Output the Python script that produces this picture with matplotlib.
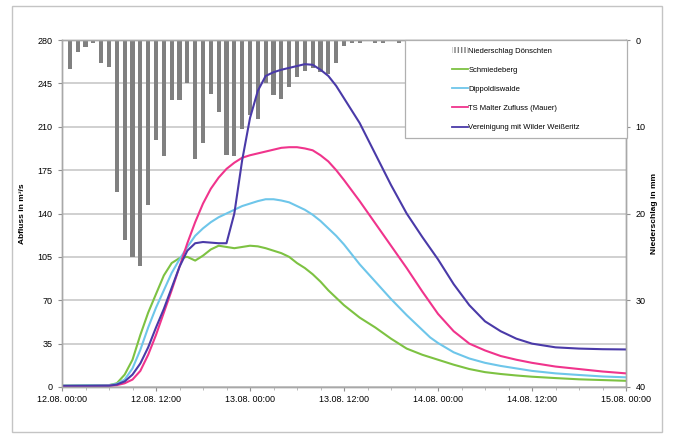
import numpy as np
import matplotlib
matplotlib.use("Agg")
import matplotlib.pyplot as plt
import matplotlib.patches as mpatches
from matplotlib.lines import Line2D

plt.rcParams['font.family'] = ['Liberation Sans', 'DejaVu Sans']

# ---------------- data ----------------
x_tick_labels = ["12.08. 00:00", "12.08. 12:00", "13.08. 00:00", "13.08. 12:00",
                 "14.08. 00:00", "14.08. 12:00", "15.08. 00:00"]

rain_hours = list(range(0, 44))
rain_mm = [0, 3.3, 1.4, 0.8, 0.4, 2.7, 3.1, 17.5, 23.1, 25.0, 26.1, 19.0, 11.5, 13.4,
           6.9, 6.9, 5.0, 13.7, 11.9, 6.2, 8.3, 13.3, 13.4, 10.3, 8.7, 9.1, 4.9, 6.3,
           6.8, 5.4, 4.3, 3.6, 3.2, 3.7, 3.9, 2.7, 0.7, 0.4, 0.3, 0, 0.3, 0.3, 0, 0.4]

t_green = [0, 6, 7, 8, 9, 10, 11, 12, 13, 14, 15, 16, 17, 18, 19, 20, 21, 22, 23, 24, 25,
           26, 27, 28, 29, 30, 31, 32, 33, 34, 35, 36, 38, 40, 42, 44, 46, 48, 50, 52, 54,
           56, 58, 60, 63, 66, 69, 72]
q_schmiedeberg = [1, 1.5, 3, 10, 22, 42, 60, 75, 90, 100, 104, 105, 102, 106, 111, 114,
                  113, 112, 113, 114, 113.5, 112, 110, 108, 105, 100, 96, 91, 85, 78, 72,
                  66, 56, 48, 39, 31, 26, 22, 18, 14.5, 12, 10.5, 9.3, 8.3, 7.2, 6.2, 5.6, 5]

t_cyan = [0, 6, 7, 8, 9, 10, 11, 12, 13, 14, 15, 16, 17, 18, 19, 20, 21, 22, 23, 24, 25,
          26, 27, 28, 29, 30, 31, 32, 33, 34, 35, 36, 38, 40, 42, 44, 46, 47, 48, 50, 52,
          54, 56, 58, 60, 63, 66, 69, 72]
q_dippoldiswalde = [1, 1.5, 2.5, 6, 15, 30, 48, 64, 78, 92, 103, 113, 122, 128, 133, 137,
                    140, 143, 146, 148, 150, 151.5, 151.5, 150.5, 149, 146, 143, 139, 134,
                    128, 122, 115, 99, 85, 71, 58, 46, 40, 35.5, 28, 23, 19.5, 17, 15, 13,
                    11, 9.7, 8.5, 7.8]

t_pink = [0, 6, 7, 8, 9, 10, 11, 12, 13, 14, 15, 16, 17, 18, 19, 20, 21, 22, 23, 24, 25,
          26, 27, 28, 29, 30, 31, 32, 33, 34, 35, 36, 38, 40, 42, 44, 46, 48, 50, 52, 54,
          56, 58, 60, 63, 66, 69, 72]
q_malter = [0.5, 1, 1.5, 3, 6, 13, 26, 42, 60, 78, 97, 116, 133, 148, 160, 169, 176, 181,
            185, 187, 188.5, 190, 191.5, 193, 193.5, 193.5, 192.5, 191, 187, 182, 175, 167,
            150, 132, 114, 96, 77, 59, 45, 35, 29.5, 25, 22, 19.5, 16.5, 14.5, 12.5, 11]

t_blue = [0, 6, 7, 8, 9, 10, 11, 12, 13, 14, 15, 16, 17, 18, 19, 20, 21, 22, 23, 24, 25,
          26, 27, 28, 29, 30, 31, 32, 33, 34, 35, 36, 38, 40, 42, 44, 46, 48, 50, 52, 54,
          56, 58, 60, 63, 66, 69, 72]
q_vereinigung = [1, 1, 2, 4.5, 10, 19, 32, 48, 63, 80, 97, 110, 116, 117, 116.5, 116, 116,
                 140, 183, 217, 239, 251, 254, 256, 257.5, 259, 260.5, 260, 256, 251, 243,
                 233, 213, 188, 163, 140, 121, 103, 83, 66, 53, 45, 39, 35, 32, 31, 30.5, 30.3]

labels = ["Niederschlag Dönschten", "Schmiedeberg", "Dippoldiswalde",
          "TS Malter Zufluss (Mauer)", "Vereinigung mit Wilder Weißeritz"]
colors = ["#808080", "#7dc242", "#6ec6ea", "#f0348c", "#4a3aa8"]

# ---------------- figure ----------------
W, H = 673, 438
fig = plt.figure(figsize=(W / 100, H / 100), dpi=100)
fig.patch.set_facecolor("white")
fig.patches.append(mpatches.Rectangle((12 / W, 6 / H), 650 / W, 426 / H,
                                      transform=fig.transFigure, fill=False,
                                      edgecolor="#c4c4c4", lw=1.0))

left, right, top, bottom = 62, 626, 40, 387
ax2 = fig.add_axes([left / W, (H - bottom) / H, (right - left) / W, (bottom - top) / H])
ax = ax2.twinx()
ax.yaxis.set_label_position("left")
ax.yaxis.tick_left()
ax2.yaxis.set_label_position("right")
ax2.yaxis.tick_right()
ax.set_zorder(ax2.get_zorder() + 1)
ax.patch.set_visible(False)

# precipitation bars (inverted secondary axis)
ax2.bar(rain_hours, rain_mm, width=0.52, color=colors[0], zorder=2)
ax2.set_ylim(40, 0)
ax2.set_yticks(np.arange(0, 41, 10))
ax2.set_yticks(np.arange(0, 41, 5), minor=True)
ax2.grid(True, which="both", axis="y", color="#c4c4c4", lw=1.1, zorder=0)
ax2.set_axisbelow(True)
ax2.tick_params(axis="y", which="minor", length=0)
ax2.tick_params(axis="y", which="major", length=3, color="#909090", labelsize=6.5, pad=4)
ax2.set_ylabel("Niederschlag in mm", fontsize=6, fontweight="bold", labelpad=4)

# discharge lines
series = [(t_green, q_schmiedeberg), (t_cyan, q_dippoldiswalde),
          (t_pink, q_malter), (t_blue, q_vereinigung)]
for (tt, qq), c in zip(series, colors[1:]):
    ax.plot(tt, qq, color=c, lw=1.5, solid_joinstyle="round")

ax.set_ylim(0, 280)
ax.set_yticks(np.arange(0, 281, 35))
ax.tick_params(axis="y", length=3, color="#909090", labelsize=6.5, pad=4)
ax.set_ylabel("Abfluss in m³/s", fontsize=6, fontweight="bold", labelpad=8)

ax2.set_xlim(0, 72)
ax2.set_xticks(np.arange(0, 73, 12))
ax2.set_xticklabels(x_tick_labels)
ax2.set_xticks(np.arange(0, 73, 3), minor=True)
ax2.tick_params(axis="x", which="major", length=3, color="#909090", labelsize=6.5, pad=3)
ax2.tick_params(axis="x", which="minor", length=2, color="#b0b0b0")

for a in (ax, ax2):
    for s in a.spines.values():
        s.set_color("#a8a8a8")
        s.set_linewidth(1.0)

# legend with separate frame
ax.add_patch(mpatches.Rectangle((0.608, 0.7176), 0.394, 0.2824, transform=ax.transAxes,
                                facecolor="white", edgecolor="#b0b0b0", lw=0.9,
                                clip_on=False, zorder=5))
handles = [mpatches.Patch(facecolor="white", edgecolor="#808080", hatch="|||||", lw=0)]
handles += [Line2D([0], [0], color=c, lw=1.3) for c in colors[1:]]
leg = ax.legend(handles, labels, loc="center", bbox_to_anchor=(0.805, 0.858),
                bbox_transform=ax.transAxes, frameon=False, fontsize=5.5,
                handlelength=2.0, handletextpad=0.1, labelspacing=1.55)
leg.set_zorder(6)

fig.savefig("out.png", dpi=100)
